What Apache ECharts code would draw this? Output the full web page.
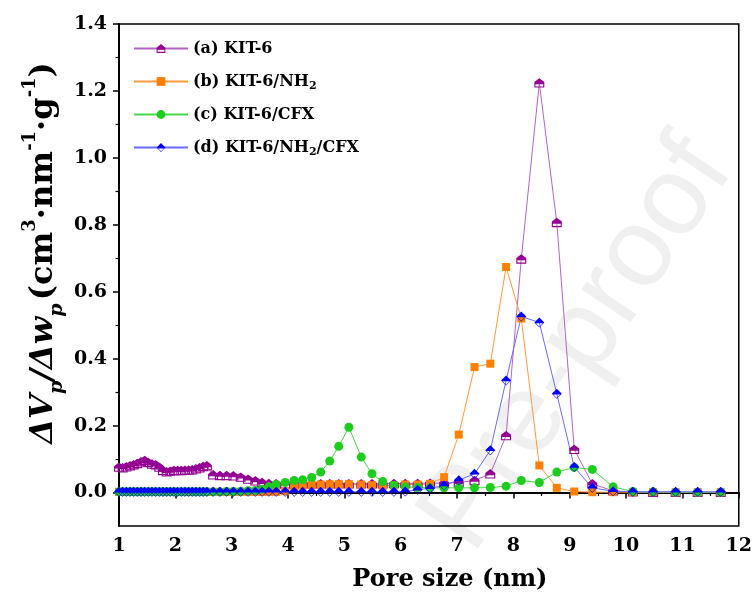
<!DOCTYPE html>
<html>
<head>
<meta charset="utf-8">
<script src="https://cdn.jsdelivr.net/npm/echarts@6/dist/echarts.min.js"></script>
<style>html,body{margin:0;padding:0;background:#fff}#c{width:755px;height:600px}</style>
</head>
<body>
<div id="c"></div>
<script>
// Pore size grid (nm)
const poreSize = [
  1.00,1.065,1.13,1.195,1.26,1.325,1.39,1.455,1.52,1.585,1.65,1.715,1.78,1.845,1.91,1.975,2.04,2.105,2.17,2.235,2.30,2.365,2.43,2.495,2.56,
  2.67,2.79,2.91,3.03,3.16,3.29,3.42,3.54,3.66,3.79,
  3.95,4.11,4.26,4.42,4.58,4.74,4.90,5.08,5.30,5.49,
  5.68,5.88,6.08,6.30,6.52,6.77,7.03,7.31,7.59,7.87,
  8.14,8.46,8.77,9.08,9.40,9.77,10.12,10.48,10.88,11.27,11.68
];
// (a) KIT-6
const kit6 = [
  0.076,0.074,0.077,0.080,0.083,0.087,0.092,0.096,0.090,0.085,0.083,0.076,0.066,0.062,0.064,0.066,0.066,0.066,0.067,0.067,0.068,0.071,0.074,0.078,0.080,
  0.053,0.051,0.051,0.050,0.046,0.040,0.035,0.030,0.027,0.026,
  0.026,0.026,0.026,0.026,0.026,0.026,0.026,0.026,0.026,0.026,
  0.026,0.027,0.027,0.027,0.028,0.028,0.030,0.036,0.056,0.170,
  0.698,1.224,0.807,0.129,0.026,0.005,0.002,0.001,0.001,0.001,0.001
];
// (b) KIT-6/NH2
const kit6NH2 = [
  0.002,0.002,0.002,0.002,0.002,0.002,0.002,0.002,0.002,0.002,0.002,0.002,0.002,0.002,0.002,0.002,0.002,0.002,0.002,0.002,0.002,0.002,0.002,0.002,0.002,
  0.002,0.002,0.002,0.002,0.002,0.002,0.002,0.002,0.002,0.002,
  0.004,0.018,0.021,0.023,0.024,0.025,0.025,0.025,0.024,0.022,
  0.020,0.021,0.024,0.024,0.026,0.046,0.173,0.375,0.385,0.674,
  0.520,0.081,0.014,0.003,0.001,0.001,0.001,0.001,0.001,0.001,0.001
];
// (c) KIT-6/CFX
const kit6CFX = [
  0.002,0.002,0.002,0.002,0.002,0.002,0.002,0.002,0.002,0.002,0.002,0.002,0.002,0.002,0.002,0.002,0.002,0.002,0.002,0.002,0.002,0.002,0.002,0.002,0.002,
  0.002,0.002,0.003,0.003,0.004,0.005,0.006,0.010,0.017,0.024,
  0.030,0.036,0.038,0.045,0.061,0.094,0.138,0.195,0.106,0.056,
  0.033,0.022,0.017,0.015,0.014,0.014,0.014,0.014,0.015,0.019,
  0.036,0.030,0.061,0.075,0.069,0.017,0.003,0.002,0.001,0.001,0.001
];
// (d) KIT-6/NH2/CFX
const kit6NH2CFX = [
  0.002,0.002,0.002,0.002,0.002,0.002,0.002,0.002,0.002,0.002,0.002,0.002,0.002,0.002,0.002,0.002,0.002,0.002,0.002,0.002,0.002,0.002,0.002,0.002,0.002,
  0.002,0.002,0.002,0.002,0.002,0.002,0.002,0.002,0.002,0.002,
  0.002,0.002,0.002,0.002,0.002,0.002,0.002,0.002,0.002,0.002,
  0.002,0.002,0.003,0.008,0.013,0.021,0.037,0.056,0.126,0.335,
  0.526,0.508,0.295,0.076,0.014,0.004,0.002,0.002,0.002,0.002,0.002
];
const seriesNames = ['(a) KIT-6','(b) KIT-6/NH2','(c) KIT-6/CFX','(d) KIT-6/NH2/CFX'];
const yMajorTicks = [0,0.2,0.4,0.6,0.8,1.0,1.2,1.4];
const yMinorTicks = [0.1,0.3,0.5,0.7,0.9,1.1,1.3];

const SERIF = '"DejaVu Serif", serif';
const houseHalf = 'path://M-9,-2L0,-9L9,-2L9,8L-9,8Z M-7,2L-7,6L7,6L7,2Z';
const diamondHalf = 'path://M0,-10L10,0L0,10L-10,0Z M-7,1.5L0,8.5L7,1.5Z';

function mk(name, vals, symbol, size, markColor, lineColor) {
  return {
    name: name, type: 'line',
    data: poreSize.map((x, i) => [x, vals[i]]),
    symbol: symbol, symbolSize: size, symbolKeepAspect: true,
    showSymbol: true,
    itemStyle: { color: markColor, borderWidth: 0 },
    lineStyle: { color: lineColor, width: 1 },
    emphasis: { disabled: true },
    animation: false
  };
}

const chart = echarts.init(document.getElementById('c'), null, { renderer: 'canvas' });
chart.setOption({
  animation: false,
  backgroundColor: '#fff',
  graphic: [
    { type: 'text', z: -10, x: 578, y: 345, rotation: 56 * Math.PI / 180,
      style: { text: 'Pre-proof', font: '112px "Liberation Sans", sans-serif', fill: '#f0f0f0', align: 'center', verticalAlign: 'middle' } },
    { type: 'text', x: 44, y: 253, rotation: Math.PI / 2,
      style: {
        text: '{i|ΔV}{s|p}{i|/Δw}{s|p} {n|(cm}{u|3}{n|·nm}{u|-1}{n|·g}{u|-1}{n|)}',
        align: 'center', verticalAlign: 'middle',
        rich: {
          i: { font: 'italic bold 32px ' + SERIF, fill: '#000', lineHeight: 46, verticalAlign: 'middle' },
          n: { font: 'bold 32px ' + SERIF, fill: '#000', lineHeight: 46, verticalAlign: 'middle' },
          s: { font: 'italic bold 19px ' + SERIF, fill: '#000', lineHeight: 46, verticalAlign: 'bottom' },
          u: { font: 'bold 18px ' + SERIF, fill: '#000', lineHeight: 46, verticalAlign: 'top' }
        }
      } }
  ],
  legend: {
    left: 128, top: 33, orient: 'vertical',
    itemWidth: 54, itemHeight: 11, itemGap: 12,
    data: seriesNames,
    formatter: function (n) { return n.replace(/NH2/g, 'NH{s|2}'); },
    textStyle: {
      fontFamily: SERIF, fontWeight: 'bold', fontSize: 16, color: '#000', lineHeight: 21,
      rich: { s: { fontFamily: SERIF, fontWeight: 'bold', fontSize: 11, verticalAlign: 'bottom', lineHeight: 21 } }
    }
  },
  grid: { left: 119, right: 15, top: 24, bottom: 74, show: true, borderColor: '#000', borderWidth: 1.5, backgroundColor: 'transparent' },
  xAxis: {
    type: 'value', min: 1, max: 12, interval: 1,
    name: 'Pore size (nm)', nameLocation: 'middle', nameGap: 42,
    nameTextStyle: { fontFamily: SERIF, fontWeight: 'bold', fontSize: 24, color: '#000', padding: [0, 0, 0, 42] },
    axisLine: { lineStyle: { color: '#000', width: 2 } },
    axisTick: { length: 6, lineStyle: { color: '#000', width: 1.5 } },
    minorTick: { show: true, splitNumber: 2, length: 3.5, lineStyle: { color: '#000', width: 1.2 } },
    axisLabel: { fontFamily: SERIF, fontWeight: 'bold', fontSize: 19, color: '#000', margin: 11 },
    splitLine: { show: false }
  },
  yAxis: [{
    type: 'value', min: -0.1, max: 1.4,
    axisLine: { show: true, lineStyle: { color: '#000', width: 2 } },
    axisTick: { show: true, length: 6, customValues: yMajorTicks, lineStyle: { color: '#000', width: 1.5 } },
    axisLabel: { customValues: yMajorTicks, formatter: v => v.toFixed(1), fontFamily: SERIF, fontWeight: 'bold', fontSize: 19, color: '#000', margin: 12 },
    splitLine: { show: false }
  }, {
    type: 'value', min: -0.1, max: 1.4, position: 'left',
    axisLine: { show: false },
    axisTick: { show: true, length: 3.5, customValues: yMinorTicks, lineStyle: { color: '#000', width: 1.2 } },
    axisLabel: { show: false },
    splitLine: { show: false }
  }],
  series: [
    mk(seriesNames[0], kit6, houseHalf, 10, '#940094', '#B463C4'),
    mk(seriesNames[1], kit6NH2, 'rect', 8, '#FF8000', '#FF9A3C'),
    mk(seriesNames[2], kit6CFX, 'circle', 9, '#1ECC1E', '#44D944'),
    mk(seriesNames[3], kit6NH2CFX, diamondHalf, 10, '#0000FF', '#6A6AFF')
  ]
});
</script>
</body>
</html>
